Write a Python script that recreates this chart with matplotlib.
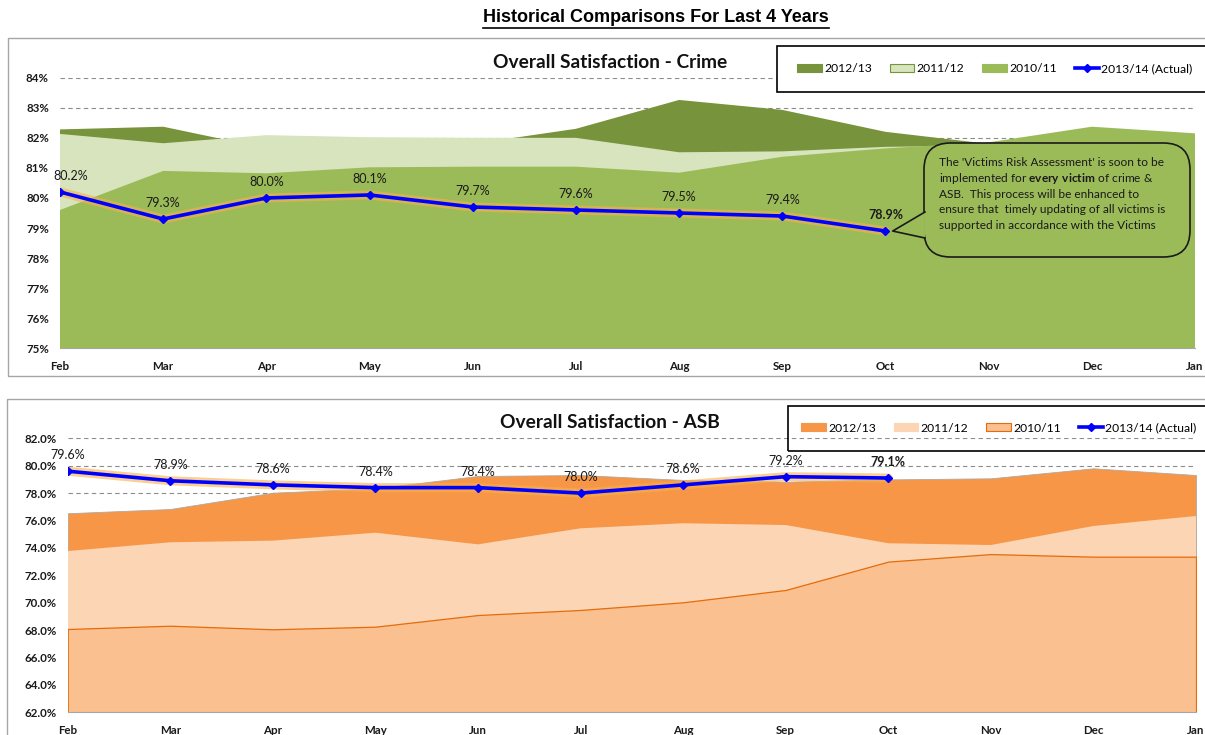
import matplotlib
matplotlib.use("Agg")
import matplotlib.pyplot as plt
from matplotlib.patches import Rectangle, FancyBboxPatch, Polygon, Patch
from matplotlib.lines import Line2D
from matplotlib.ticker import FixedLocator, FuncFormatter

plt.rcParams['font.family'] = ['Lato', 'DejaVu Sans']
plt.rcParams['mathtext.fontset'] = 'custom'
plt.rcParams['mathtext.rm'] = 'Lato'
plt.rcParams['mathtext.bf'] = 'Lato:bold'

# ---------------- data ----------------
months = ['Feb', 'Mar', 'Apr', 'May', 'Jun', 'Jul', 'Aug', 'Sep', 'Oct', 'Nov', 'Dec', 'Jan']
series_names = ['2012/13', '2011/12', '2010/11', '2013/14 (Actual)']

crime_2012_13 = [82.28, 82.37, 81.65, 81.70, 81.80, 82.30, 83.26, 82.93, 82.20, 81.80, 81.70, 81.60]
crime_2011_12 = [82.13, 81.82, 82.09, 82.02, 82.00, 82.00, 81.52, 81.55, 81.70, 81.75, 81.60, 81.50]
crime_2010_11 = [79.60, 80.90, 80.82, 81.02, 81.04, 81.04, 80.84, 81.37, 81.65, 81.85, 82.37, 82.15]
crime_actual = [80.2, 79.3, 80.0, 80.1, 79.7, 79.6, 79.5, 79.4, 78.9]

asb_2012_13 = [76.53, 76.84, 78.03, 78.35, 79.25, 79.32, 78.96, 78.83, 79.00, 79.08, 79.81, 79.32]
asb_2011_12 = [73.77, 74.41, 74.53, 75.11, 74.26, 75.43, 75.80, 75.67, 74.34, 74.21, 75.60, 76.33]
asb_2010_11 = [68.08, 68.32, 68.06, 68.25, 69.10, 69.47, 70.03, 70.93, 73.00, 73.55, 73.36, 73.36]
asb_actual = [79.6, 78.9, 78.6, 78.4, 78.4, 78.0, 78.6, 79.2, 79.1]

crime_yticks = [75, 76, 77, 78, 79, 80, 81, 82, 83, 84]
asb_yticks = [62, 64, 66, 68, 70, 72, 74, 76, 78, 80, 82]

crime_colors = ['#77933C', '#D7E4BD', '#9BBB59']
asb_colors = ['#F79646', '#FCD5B5', '#FAC090']

note_lines = [
    "The 'Victims Risk Assessment' is soon to be",
    "implemented for $\\mathbf{every\\ victim}$ of crime &",
    "ASB.  This process will be enhanced to",
    "ensure that  timely updating of all victims is",
    "supported in accordance with the Victims",
]

# ---------------- figure ----------------
W, H = 1205, 735
fig = plt.figure(figsize=(W / 100, H / 100), dpi=100)
fig.patch.set_facecolor('white')


def fx(px):
    return px / W


def fy(py):
    return 1 - py / H


def make_chart(rect, vals, colors, actual, yticks, fmt, edge_specs, first_left=False):
    ax = fig.add_axes(rect)
    x = list(range(len(months)))
    ybase = yticks[0]
    for v, c, (ec, lw) in zip(vals, colors, edge_specs):
        ax.fill_between(x, ybase, v, facecolor=c, edgecolor=ec, linewidth=lw, zorder=2)
    xa = x[:len(actual)]
    ax.plot(xa, actual, color='#F9B04A', lw=6.5, alpha=0.6, zorder=3, solid_capstyle='round')
    ax.plot(xa, actual, color='#0000FF', lw=2.6, marker='D', markersize=4.5, zorder=4)
    for i, v in enumerate(actual):
        last = i == len(actual) - 1
        if i == 0 and first_left:
            ha, dx = 'left', -5
        else:
            ha, dx = 'center', 0
        ax.annotate(f"{v:.1f}%", (xa[i], v), xytext=(dx, 7), textcoords='offset points',
                    ha=ha, va='bottom', fontsize=9, color='#1a1a1a',
                    fontweight='bold' if last else 'normal', zorder=5)
    ax.set_xlim(0, len(months) - 1)
    ax.set_ylim(yticks[0], yticks[-1])
    ax.set_xticks(x)
    ax.set_xticklabels(months)
    ax.yaxis.set_major_locator(FixedLocator(yticks))
    ax.yaxis.set_major_formatter(FuncFormatter(fmt))
    ax.tick_params(axis='both', length=0, labelsize=8.3, colors='#1a1a1a')
    ax.tick_params(axis='y', pad=8)
    ax.tick_params(axis='x', pad=9.5)
    for lab in ax.get_xticklabels() + ax.get_yticklabels():
        lab.set_fontweight('bold')
    ax.grid(axis='y', color='#8c8c8c', linestyle=(0, (4, 3)), linewidth=0.8, zorder=1)
    ax.set_axisbelow(True)
    for s in ['top', 'left', 'right']:
        ax.spines[s].set_visible(False)
    ax.spines['bottom'].set_color('#A6A6A6')
    ax.patch.set_alpha(0)
    return ax


# panel borders
fig.add_artist(Rectangle((fx(8), fy(376)), 1.0, (376 - 38) / H, transform=fig.transFigure,
                         fill=False, edgecolor='#A6A6A6', lw=1.0, zorder=0))
fig.add_artist(Rectangle((fx(7), -0.02), 1.0, (735 - 399) / H + 0.02, transform=fig.transFigure,
                         fill=False, edgecolor='#A6A6A6', lw=1.0, zorder=0))

ax1 = make_chart([fx(60), fy(348.3), fx(1195) - fx(60), fy(77.7) - fy(348.3)],
                 [crime_2012_13, crime_2011_12, crime_2010_11], crime_colors, crime_actual,
                 crime_yticks, lambda v, p: f"{v:.0f}%",
                 [('none', 0), ('none', 0), ('none', 0)], first_left=True)

ax2 = make_chart([fx(67.7), fy(712.3), fx(1196) - fx(67.7), fy(438.3) - fy(712.3)],
                 [asb_2012_13, asb_2011_12, asb_2010_11], asb_colors, asb_actual,
                 asb_yticks, lambda v, p: f"{v:.1f}%",
                 [('#B0A8A0', 0.6), ('none', 0), ('#E46C0A', 0.9)])

# titles
main_title = fig.text(fx(656), fy(18), 'Historical Comparisons For Last 4 Years', ha='center', va='center',
                      fontsize=13, fontweight='bold', color='#000000', family=['Liberation Sans', 'DejaVu Sans'])
fig.text(fx(610), fy(62), 'Overall Satisfaction - Crime', ha='center', va='center',
         fontsize=13.8, fontweight='bold', color='#111111')
fig.text(fx(610), fy(422), 'Overall Satisfaction - ASB', ha='center', va='center',
         fontsize=13.8, fontweight='bold', color='#111111')

# legends
fig.add_artist(Rectangle((fx(777), fy(91.7)), 1.0, (91.7 - 45.7) / H, transform=fig.transFigure,
                         facecolor='white', edgecolor='#000000', lw=1.2, zorder=1))
fig.add_artist(Rectangle((fx(787.7), fy(451)), 1.0, (451 - 405.7) / H, transform=fig.transFigure,
                         fill=False, edgecolor='#000000', lw=1.2, zorder=1))


def legend_handles(colors, edges):
    hs = [Patch(facecolor=c, edgecolor=e, linewidth=0.8) for c, e in zip(colors, edges)]
    hs.append(Line2D([], [], color='#0000FF', lw=2.6, marker='D', markersize=4))
    return hs


leg1 = fig.legend(legend_handles(crime_colors, [crime_colors[0], '#77933C', crime_colors[2]]), series_names,
                  loc='center', bbox_to_anchor=(fx(995), fy(69)), ncol=4, frameon=False,
                  fontsize=8.7, handlelength=2.0, handleheight=0.6, handletextpad=0.2,
                  columnspacing=1.5)
leg2 = fig.legend(legend_handles(asb_colors, [asb_colors[0], asb_colors[1], '#E46C0A']), series_names,
                  loc='center', bbox_to_anchor=(fx(999), fy(428)), ncol=4, frameon=False,
                  fontsize=8.7, handlelength=2.0, handleheight=0.6, handletextpad=0.2,
                  columnspacing=1.5)
for lg in (leg1, leg2):
    lg.set_zorder(3)

# callout box
bx0, by0, bx1, by1 = 924, 143, 1190, 257
box = FancyBboxPatch((fx(bx0), fy(by1)), fx(bx1) - fx(bx0), fy(by0) - fy(by1),
                     boxstyle='round,pad=0,rounding_size=0.022', transform=fig.transFigure,
                     facecolor='#9BBB59', edgecolor='#1a1a1a', lw=1.2, zorder=6, mutation_aspect=W / H)
fig.add_artist(box)
# pointer towards the last actual point
tip = ax1.transData.transform((8, crime_actual[-1]))
tipf = fig.transFigure.inverted().transform(tip)
p_top = (fx(bx0) + 0.0008, fy(212))
p_bot = (fx(bx0) + 0.0008, fy(238))
fig.add_artist(Polygon([p_top, (tipf[0] + 0.006, tipf[1]), p_bot], closed=True, transform=fig.transFigure,
                       facecolor='#9BBB59', edgecolor='none', zorder=7))
fig.add_artist(Line2D([p_top[0], tipf[0] + 0.006, p_bot[0]], [p_top[1], tipf[1], p_bot[1]],
                      transform=fig.transFigure, color='#1a1a1a', lw=1.2, zorder=8))
for i, line in enumerate(note_lines):
    fig.text(fx(939), fy(163 + 15.6 * i), line, ha='left', va='center', fontsize=8.6,
             color='#1a1a1a', zorder=9)

# underline main title
fig.canvas.draw()
bb = main_title.get_window_extent(fig.canvas.get_renderer())
yl = (bb.y0 - 1) / fig.bbox.height
fig.add_artist(Line2D([bb.x0 / fig.bbox.width, bb.x1 / fig.bbox.width], [yl, yl],
                      transform=fig.transFigure, color='black', lw=1.2))

fig.savefig('out.png', dpi=100)
